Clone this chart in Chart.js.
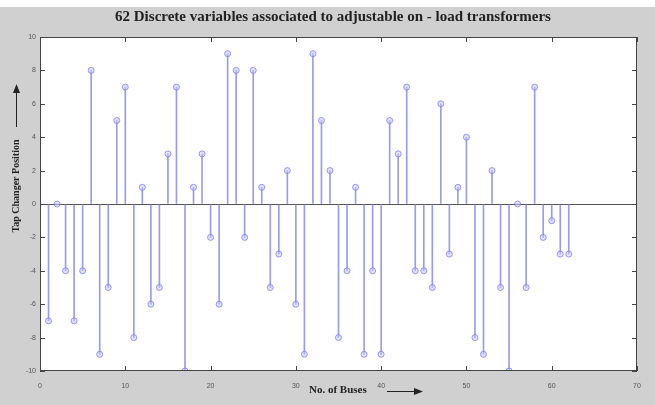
<!DOCTYPE html>
<html>
<head>
<meta charset="utf-8">
<script src="https://cdn.jsdelivr.net/npm/chart.js@4.4.1/dist/chart.umd.min.js"></script>
<style>
    html, body { margin: 0; padding: 0; background: #ffffff; }
    #wrap { width: 655px; height: 405px; position: relative; }
</style>
</head>
<body>
<div id="wrap"><canvas id="stem-chart"></canvas></div>
<script>
// Bus numbers and tap changer positions (stem plot)
const buses = [1, 2, 3, 4, 5, 6, 7, 8, 9, 10,
    11, 12, 13, 14, 15, 16, 17, 18, 19, 20,
    21, 22, 23, 24, 25, 26, 27, 28, 29, 30,
    31, 32, 33, 34, 35, 36, 37, 38, 39, 40,
    41, 42, 43, 44, 45, 46, 47, 48, 49, 50,
    51, 52, 53, 54, 55, 56, 57, 58, 59, 60,
    61, 62];
const tapPositions = [-7, 0, -4, -7, -4, 8, -9, -5, 5, 7,
    -8, 1, -6, -5, 3, 7, -10, 1, 3, -2,
    -6, 9, 8, -2, 8, 1, -5, -3, 2, -6,
    -9, 9, 5, 2, -8, -4, 1, -9, -4, -9,
    5, 3, 7, -4, -4, -5, 6, -3, 1, 4,
    -8, -9, 2, -5, -10, 0, -5, 7, -2, -1,
    -3, -3];
const xTicks = [0, 10, 20, 30, 40, 50, 60, 70];
const yTicks = [-10, -8, -6, -4, -2, 0, 2, 4, 6, 8, 10];

const chartTitle = '62 Discrete variables associated to adjustable on - load transformers';
const xTitle = 'No. of Buses';
const yTitle = 'Tap Changer Position';

const stemColor = 'rgba(120, 120, 235, 0.75)';
const axisColor = '#444444';

const points = buses.map((b, i) => ({ x: b, y: tapPositions[i] }));

// Gray figure background, box, inward ticks, title and axis labels
const decor = {
    id: 'decor',
    beforeDraw(chart) {
        const { ctx, width, height, chartArea: a } = chart;
        ctx.save();
        ctx.fillStyle = '#d0d0d0';
        ctx.fillRect(0, 0, width, height);
        ctx.fillStyle = '#ffffff';
        ctx.fillRect(0, 0, width, 7);
        ctx.fillRect(a.left, a.top, a.right - a.left, a.bottom - a.top);
        ctx.restore();
    },
    afterDraw(chart) {
        const { ctx, chartArea: a, scales } = chart;
        ctx.save();
        ctx.strokeStyle = axisColor;
        ctx.lineWidth = 1;
        ctx.strokeRect(a.left + 0.5, a.top + 0.5, a.right - a.left - 1, a.bottom - a.top - 1);

        // inward tick marks on all four sides
        ctx.beginPath();
        xTicks.forEach(v => {
            const px = Math.round(scales.x.getPixelForValue(v)) + 0.5;
            ctx.moveTo(px, a.bottom); ctx.lineTo(px, a.bottom - 5);
            ctx.moveTo(px, a.top); ctx.lineTo(px, a.top + 5);
        });
        yTicks.forEach(v => {
            const py = Math.round(scales.y.getPixelForValue(v)) + 0.5;
            ctx.moveTo(a.left, py); ctx.lineTo(a.left + 5, py);
            ctx.moveTo(a.right, py); ctx.lineTo(a.right - 5, py);
        });
        ctx.stroke();

        // title
        ctx.fillStyle = '#222222';
        ctx.font = 'bold 15px "Liberation Serif", "DejaVu Serif", serif';
        ctx.textAlign = 'center';
        ctx.textBaseline = 'middle';
        ctx.fillText(chartTitle, 333, 17);

        // x axis label with arrow
        ctx.font = 'bold 11px "Liberation Serif", "DejaVu Serif", serif';
        ctx.textAlign = 'left';
        ctx.fillText(xTitle, 309, 390);
        ctx.strokeStyle = '#222222';
        ctx.beginPath();
        ctx.moveTo(387, 391.5); ctx.lineTo(416, 391.5);
        ctx.stroke();
        ctx.beginPath();
        ctx.moveTo(423, 391.5); ctx.lineTo(414, 388); ctx.lineTo(414, 395);
        ctx.closePath(); ctx.fill();

        // y axis label with arrow
        ctx.save();
        ctx.translate(16, 186);
        ctx.rotate(-Math.PI / 2);
        ctx.textAlign = 'center';
        ctx.font = 'bold 10px "Liberation Serif", "DejaVu Serif", serif';
        ctx.fillText(yTitle, 0, 0);
        ctx.restore();
        ctx.beginPath();
        ctx.moveTo(16.5, 127); ctx.lineTo(16.5, 92);
        ctx.stroke();
        ctx.beginPath();
        ctx.moveTo(16.5, 84); ctx.lineTo(13, 93); ctx.lineTo(20, 93);
        ctx.closePath(); ctx.fill();
        ctx.restore();
    }
};

const ctx = document.getElementById('stem-chart').getContext('2d');
new Chart(ctx, {
    type: 'bar',
    data: {
        datasets: [{
            label: 'Stems',
            data: points,
            backgroundColor: stemColor,
            borderWidth: 0,
            barThickness: 1,
            order: 2
        }, {
            type: 'line',
            label: 'Markers',
            data: points,
            showLine: false,
            pointStyle: 'circle',
            pointRadius: 3,
            borderWidth: 1,
            pointBorderColor: stemColor,
            pointBackgroundColor: 'rgba(200, 200, 255, 0.5)',
            order: 1
        }]
    },
    options: {
        responsive: true,
        maintainAspectRatio: false,
        animation: false,
        layout: { padding: { top: 37, right: 18, bottom: 0, left: 0 } },
        plugins: {
            legend: { display: false },
            tooltip: { enabled: false }
        },
        scales: {
            x: {
                type: 'linear',
                min: 0,
                max: 70,
                offset: false,
                afterFit: s => { s.height = 34; },
                afterBuildTicks: s => { s.ticks = xTicks.map(v => ({ value: v })); },
                grid: { display: false, offset: false },
                border: { display: false },
                ticks: {
                    color: '#555555',
                    font: { size: 7, family: 'Arial, "Liberation Sans", sans-serif' },
                    padding: 3,
                    maxRotation: 0
                }
            },
            y: {
                min: -10,
                max: 10,
                afterFit: s => { s.width = 40; },
                afterBuildTicks: s => { s.ticks = yTicks.map(v => ({ value: v })); },
                grid: {
                    drawTicks: false,
                    color: c => (c.tick && c.tick.value === 0 ? '#555555' : 'transparent'),
                    lineWidth: 1
                },
                border: { display: false },
                ticks: {
                    color: '#555555',
                    font: { size: 7, family: 'Arial, "Liberation Sans", sans-serif' },
                    padding: 4
                }
            }
        }
    },
    plugins: [decor]
});
</script>
</body>
</html>
